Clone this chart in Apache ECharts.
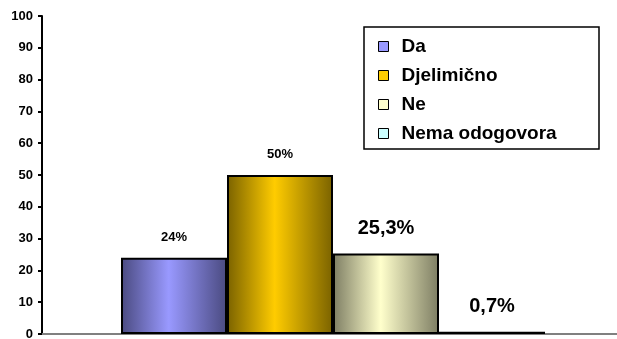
<!DOCTYPE html>
<html>
<head>
<meta charset="utf-8">
<script src="https://cdn.jsdelivr.net/npm/echarts@6/dist/echarts.min.js"></script>
<style>
  html, body { margin: 0; padding: 0; background: #fff; }
  #chart { width: 617px; height: 339px; }
</style>
</head>
<body>
<div id="chart"></div>
<script>
// Survey answers (percent of respondents)
const categories = ['Da', 'Djelimično', 'Ne', 'Nema odogovora'];
const values = [24, 50, 25.3, 0.7];
const yTicks = [0, 10, 20, 30, 40, 50, 60, 70, 80, 90, 100];

// Per-answer styling: centre colour, edge shade, label size
const centerColors = ['#9999ff', '#ffcc00', '#ffffcc', '#ccffff'];
const edgeColors = ['#4a4a80', '#7a6200', '#7d7d63', '#628080'];
const labelSizes = [13, 13, 20, 20];

const FONT = 'Liberation Sans, Arial, sans-serif';

function pct(v) {
  return String(v).replace('.', ',') + '%';
}

const series = categories.map((name, i) => ({
  name: name,
  type: 'bar',
  data: [values[i]],
  barWidth: 106,
  barGap: '0%',
  itemStyle: {
    color: {
      type: 'linear', x: 0, y: 0, x2: 1, y2: 0,
      colorStops: [
        { offset: 0, color: edgeColors[i] },
        { offset: 0.45, color: centerColors[i] },
        { offset: 1, color: edgeColors[i] }
      ]
    },
    borderColor: '#000',
    borderWidth: 2
  },
  label: {
    show: true,
    position: 'top',
    distance: labelSizes[i] > 15 ? 15 : 14,
    formatter: (p) => pct(p.value),
    fontFamily: FONT,
    fontWeight: 'bold',
    fontSize: labelSizes[i],
    color: '#000'
  }
}));

const chart = echarts.init(document.getElementById('chart'), null, { renderer: 'canvas' });
chart.setOption({
  animation: false,
  backgroundColor: '#fff',
  grid: {
    left: 42, width: 582, top: 16, bottom: 5,
    containLabel: false,
    outerBoundsMode: 'none'
  },
  xAxis: {
    type: 'category',
    data: [''],
    axisLine: { show: true, lineStyle: { color: '#808080', width: 2 } },
    axisTick: { show: false },
    axisLabel: { show: false }
  },
  yAxis: {
    type: 'value',
    min: yTicks[0],
    max: yTicks[yTicks.length - 1],
    interval: yTicks[1] - yTicks[0],
    splitLine: { show: false },
    axisLine: { show: true, lineStyle: { color: '#000', width: 2 } },
    axisTick: { show: true, length: 4, lineStyle: { color: '#000', width: 2 } },
    axisLabel: {
      margin: 9,
      fontFamily: FONT,
      fontWeight: 'bold',
      fontSize: 13,
      color: '#000'
    }
  },
  legend: {
    orient: 'vertical',
    left: 378,
    top: 37,
    padding: 0,
    itemWidth: 10,
    itemHeight: 10,
    itemGap: 10,
    selectedMode: false,
    data: categories.map((name, i) => ({
      name: name,
      icon: 'rect',
      itemStyle: { color: centerColors[i], borderColor: '#000', borderWidth: 1 }
    })),
    textStyle: {
      fontFamily: FONT,
      fontWeight: 'bold',
      fontSize: 19,
      lineHeight: 18,
      color: '#000',
      padding: [0, 0, 0, 8]
    }
  },
  graphic: [{
    type: 'rect',
    shape: { x: 364, y: 27, width: 235, height: 122 },
    style: { fill: 'none', stroke: '#000', lineWidth: 1.5 },
    z: 10
  }],
  series: series
});
</script>
</body>
</html>
